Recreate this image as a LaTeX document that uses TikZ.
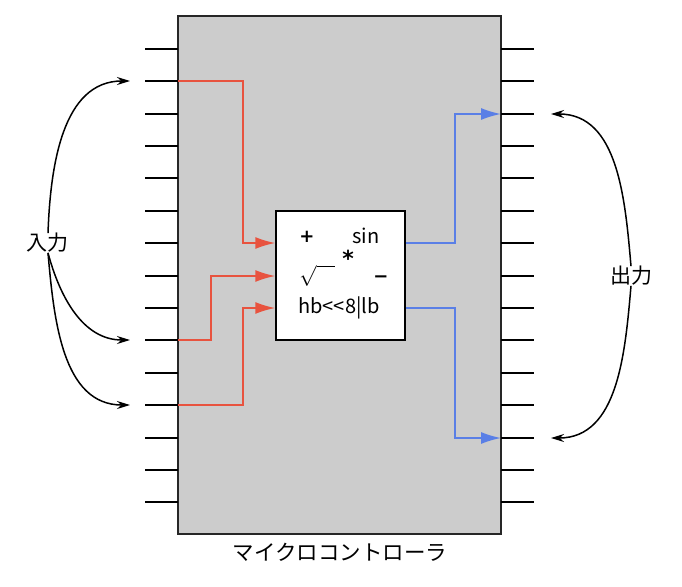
\documentclass[tikz,border=0pt]{standalone}
\usepackage{fontspec}
\setmainfont{Noto Sans CJK JP}
\newfontfamily\dv{DejaVu Sans}
\usetikzlibrary{arrows.meta}
\definecolor{inred}{HTML}{E8533F}
\definecolor{outblue}{HTML}{5A7FE6}
\definecolor{chipgray}{HTML}{CCCCCC}
\tikzset{
  chip/.style={draw=black!85, fill=chipgray, line width=1.6pt, minimum width=323pt, minimum height=518pt, inner sep=0pt},
  core/.style={draw=black, fill=white, line width=1.5pt, minimum width=129pt, minimum height=129pt, inner sep=0pt},
  pinline/.style={draw=black, line width=1.8pt},
  inwire/.style={draw=inred, line width=1.7pt, -{Latex[length=20pt,width=12pt]}},
  outwire/.style={draw=outblue, line width=1.7pt, -{Latex[length=20pt,width=12pt]}},
  callout/.style={draw=black, line width=1.5pt, -{Stealth[length=13pt,width=8pt]}},
  optxt/.style={font=\fontsize{20}{22}\selectfont, inner sep=0pt},
  lbl/.style={font=\fontsize{21}{24}\selectfont, inner sep=0pt}
}
\begin{document}
\begin{tikzpicture}[x=1pt,y=-1pt]
\useasboundingbox (0,0) rectangle (682,586);
\node[chip] (mcu) at (339.5,275) {};
\foreach \y [count=\i from 0] in {49,81,114,146,178,211,243,276,308,340,373,405,438,470,502} {
  \coordinate (L\i) at (178,\y);
  \coordinate (R\i) at (501,\y);
  \draw[pinline] (L\i) -- ++(-33,0);
  \draw[pinline] (R\i) -- ++(33,0);
}
\node[core] (box) at (340.5,275.5) {};
% wires
\draw[inwire] (L1) -- ++(65,0) |- (box.west|-L6);
\draw[inwire] (L9) -- ++(33,0) |- (box.west|-L7);
\draw[inwire] (L11) -- ++(65,0) |- (box.west|-L8);
\draw[outwire] (box.east|-L6) -- ++(49,0) |- (R2);
\draw[outwire] (box.east|-L8) -- ++(49,0) |- (R12);
% core texts
\node[optxt, font=\dv\bfseries\fontsize{18}{20}\selectfont] (plus) at (307,237) {+};
\node[optxt] (sin) at (366,236) {sin};
\node[optxt, font=\dv\bfseries\fontsize{22}{24}\selectfont] (star) at (348,258) {*};
\node[optxt, font=\fontsize{20}{22}\selectfont] (sqrt) at (317,276) {$\sqrt{\phantom{m}}$};
\node[optxt, font=\dv\bfseries\fontsize{18}{20}\selectfont] (minus) at (381,279) {−};
\node[optxt] (shift) at (339,308) {hb<{}<8|lb};
% labels
\node[lbl] (in) at (48,243) {入力};
\node[lbl] (out) at (631,276) {出力};
\node[lbl, font=\fontsize{21.5}{24}\selectfont] (name) at (340,552) {マイクロコントローラ};
% callouts
\coordinate (a1) at (130,81);
\coordinate (a9) at (130,340);
\coordinate (a11) at (130,405);
\coordinate (b2) at (551,114);
\coordinate (b12) at (551,438);
\draw[callout] (in.north) to[out=88,in=180] (a1);
\draw[callout] (in.south) to[out=-75,in=180] (a9);
\draw[callout] (in.south) to[out=-85,in=180] (a11);
\draw[callout] (out.north) to[out=95,in=0] (b2);
\draw[callout] (out.south) to[out=-95,in=0] (b12);
\end{tikzpicture}
\end{document}
